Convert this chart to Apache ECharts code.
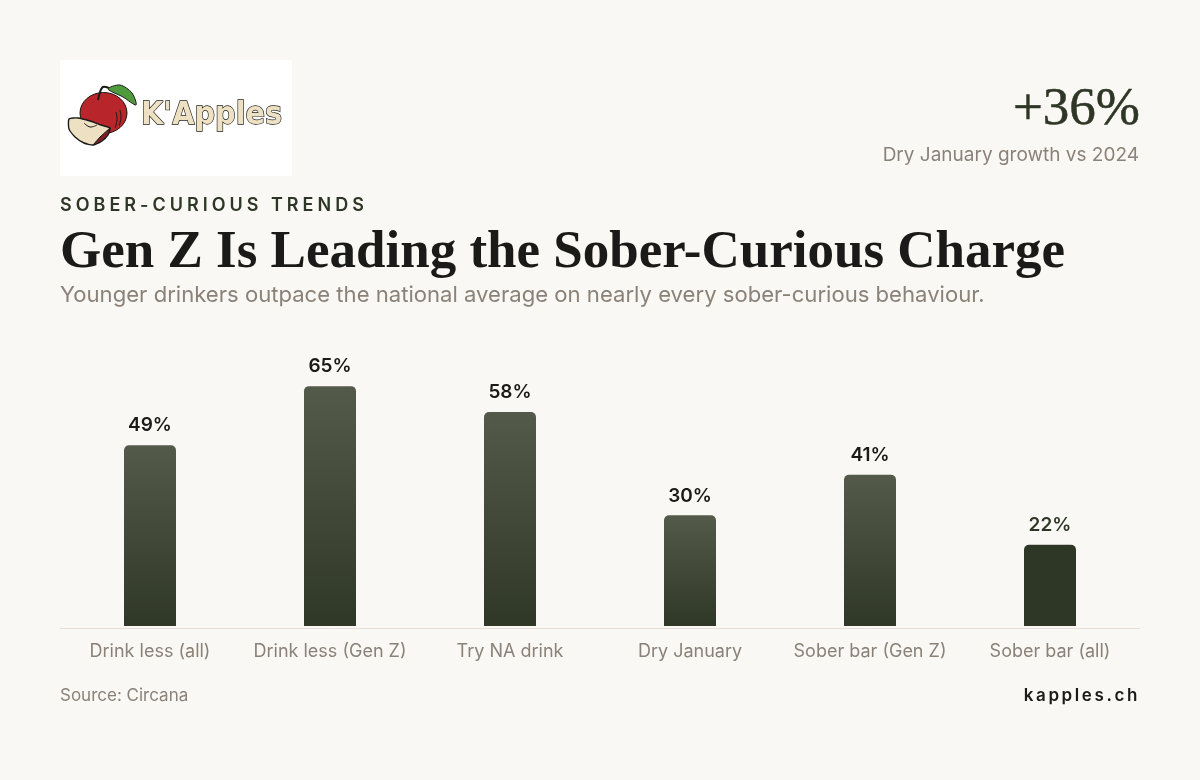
<!DOCTYPE html>
<html><head><meta charset="utf-8">
<style>
html,body{margin:0;padding:0;background:#faf8f4;width:1200px;height:780px;overflow:hidden}
#c{position:absolute;left:0;top:0;width:1200px;height:780px}
.t{position:absolute;font-family:Inter,sans-serif;white-space:nowrap;font-weight:600;line-height:20px}
</style>
<script src="https://cdn.jsdelivr.net/npm/echarts@6/dist/echarts.min.js"></script>
</head><body>
<div id="c"></div>
<div class="t" style="left:60px;top:195px;font-size:18px;letter-spacing:4px;color:#2e3725;font-weight:600">SOBER-CURIOUS TRENDS</div>
<div class="t" style="right:60px;top:685px;font-size:17px;letter-spacing:2.6px;color:#1a1a18">kapples.ch</div>
<script>
const categories=['Drink less (all)','Drink less (Gen Z)','Try NA drink','Dry January','Sober bar (Gen Z)','Sober bar (all)'];
const values=[49,65,58,30,41,22];
const solidFlags=[false,false,false,false,false,true];
const gradTop='#535a4a',gradBottom='#2f3726',solid='#2e3725',ink='#1a1a18',muted='#8a8278';
const chart=echarts.init(document.getElementById('c'),null,{renderer:'canvas'});
const fill=(a)=>new echarts.graphic.LinearGradient(0,0,0,1,[{offset:0,color:a?solid:gradTop},{offset:1,color:a?solid:gradBottom}]);
chart.setOption({
 backgroundColor:'#faf8f4',animation:false,
 grid:{left:60,right:60,top:257,height:369},
 xAxis:{type:'category',data:categories,offset:2,
  axisLine:{onZero:false,lineStyle:{color:'#e8e0d8',width:1}},axisTick:{show:false},
  axisLabel:{color:muted,fontFamily:'Inter',fontSize:18,margin:15,interval:0}},
 yAxis:{type:'value',min:0,max:100,show:false},
 series:[{type:'bar',barWidth:52,
  data:values.map((v,i)=>({value:v,itemStyle:{color:fill(solidFlags[i]),borderRadius:[5,5,0,0]},
   label:{color:solidFlags[i]?solid:ink}})),
  label:{show:true,position:'top',distance:10,formatter:'{c}%',fontFamily:'Inter',fontSize:19,fontWeight:600}}],
 graphic:[
  {type:'rect',shape:{x:60,y:60,width:232,height:116},style:{fill:'#ffffff'}},
  {type:'ellipse',shape:{cx:103.5,cy:113,rx:23.5,ry:20.5},style:{fill:'#b8262c',stroke:'#1a1a18',lineWidth:1}},
  {type:'polyline',shape:{points:[[116,112],[117,120],[115,128]],smooth:0.4},style:{fill:'none',stroke:'#1a1a18',lineWidth:1}},
  {type:'polyline',shape:{points:[[120,110],[121,118],[119,126]],smooth:0.4},style:{fill:'none',stroke:'#1a1a18',lineWidth:1}},
  {type:'polyline',shape:{points:[[98,100],[100,92],[103,87],[109,88]],smooth:0.3},style:{fill:'none',stroke:'#1a1a18',lineWidth:2}},
  {type:'polygon',shape:{points:[[108,89],[120,85],[132,93],[136,105],[123,97]],smooth:0.3},style:{fill:'#4f9a3c',stroke:'#1a1a18',lineWidth:1}},
  {type:'polygon',shape:{points:[[69,119],[78,118],[90,121],[101,125],[110,128],[108,135],[102,141],[93,145],[84,143],[75,137],[69,129]],smooth:0.2},style:{fill:'#eee0c2',stroke:'#1a1a18',lineWidth:1.4}},
  {type:'polygon',shape:{points:[[110,128],[108,135],[102,141],[93,145],[100,137]]},style:{fill:'#7a1f24',stroke:'#1a1a18',lineWidth:1}},
  {type:'polyline',shape:{points:[[84,123],[90,127],[97,125]],smooth:0.4},style:{fill:'none',stroke:'#1a1a18',lineWidth:1}},
  {type:'text',x:141,y:100,style:{text:"K'Apples",font:'bold 32px "DejaVu Sans Condensed"',fill:'#eee0c2',stroke:'#1a1a18',lineWidth:1.3}},
  {type:'text',x:1140,y:84,style:{text:'+36%',font:'400 53px "Liberation Serif"',fill:'#2e3725',stroke:'#2e3725',lineWidth:0.5,align:'right'}},
  {type:'text',x:1139,y:146,style:{text:'Dry January growth vs 2024',font:'400 19px Inter',fill:muted,align:'right'}},
  {type:'text',x:60,y:227,style:{text:'Gen Z Is Leading the Sober-Curious Charge',font:'700 53px "Liberation Serif"',fill:ink}},
  {type:'text',x:60,y:284,style:{text:'Younger drinkers outpace the national average on nearly every sober-curious behaviour.',font:'400 22.1px Inter',fill:muted}},
  {type:'text',x:60,y:687,style:{text:'Source: Circana',font:'400 17px Inter',fill:muted}}
 ]
});
</script></body></html>
